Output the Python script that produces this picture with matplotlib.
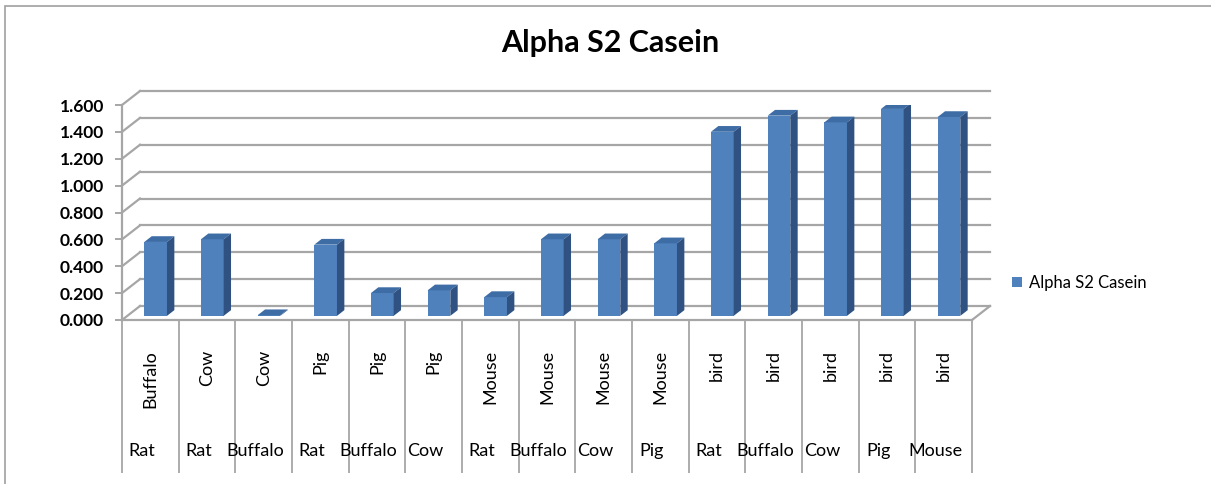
import numpy as np
import matplotlib.pyplot as plt
from matplotlib.patches import Polygon, Rectangle
from matplotlib.ticker import FormatStrFormatter

plt.rcParams['font.family'] = ['Lato', 'DejaVu Sans']

# data
inner_labels = ['Buffalo', 'Cow', 'Cow', 'Pig', 'Pig', 'Pig', 'Mouse', 'Mouse',
                'Mouse', 'Mouse', 'bird', 'bird', 'bird', 'bird', 'bird']
outer_labels = ['Rat', 'Rat', 'Buffalo', 'Rat', 'Buffalo', 'Cow', 'Rat', 'Buffalo',
                'Cow', 'Pig', 'Rat', 'Buffalo', 'Cow', 'Pig', 'Mouse']
values = [0.55, 0.57, 0.005, 0.53, 0.17, 0.19, 0.14, 0.57,
          0.57, 0.54, 1.37, 1.49, 1.44, 1.54, 1.48]
series_name = 'Alpha S2 Casein'
yticks = [0.0, 0.2, 0.4, 0.6, 0.8, 1.0, 1.2, 1.4, 1.6]

W, H = 1211, 484
fig = plt.figure(figsize=(W / 100, H / 100), dpi=100)
ax = fig.add_axes([122 / W, 1 - 320 / H, 850 / W, 215 / H])
n = len(values)
ax.set_xlim(0, n)
ax.set_ylim(0, 1.6)

grid_c = '#A6A6A6'
front_c = '#4F81BD'
top_c = '#3E6DA6'
side_c = '#2F5282'

# depth of the 3d box in data units
DX = 18 / (850 / n)
DY = 14 / (215 / 1.6)

# back wall gridlines + side wall diagonals
for v in yticks:
    ax.plot([0, DX], [v, v + DY], color=grid_c, lw=1.6, clip_on=False, zorder=1)
    ax.plot([DX, n + DX], [v + DY, v + DY], color=grid_c, lw=1.6, clip_on=False, zorder=1)
ax.plot([n, n + DX], [0, DY], color=grid_c, lw=1.6, clip_on=False, zorder=1)

# bars: front face with ax.bar, top and side faces as polygons
f0, f1 = 0.295, 0.705
bw = 0.4
x = np.arange(n)
xl = x + 0.5 + f0 * DX - bw / 2
bottom = f0 * DY
ddx = (f1 - f0) * DX
ddy = (f1 - f0) * DY
ax.bar(xl, values, width=bw, bottom=bottom, align='edge', color=front_c,
       edgecolor='none', zorder=3, label=series_name)
for left, v in zip(xl, values):
    top = bottom + v
    ax.add_patch(Polygon([(left, top), (left + bw, top), (left + bw + ddx, top + ddy),
                          (left + ddx, top + ddy)], closed=True, facecolor=top_c,
                         edgecolor='none', zorder=3))
    ax.add_patch(Polygon([(left + bw, bottom), (left + bw, top), (left + bw + ddx, top + ddy),
                          (left + bw + ddx, bottom + ddy)], closed=True, facecolor=side_c,
                         edgecolor='none', zorder=3))

# axes look
for s in ['top', 'right']:
    ax.spines[s].set_visible(False)
for s in ['left', 'bottom']:
    ax.spines[s].set_color(grid_c)
    ax.spines[s].set_linewidth(1.6)
ax.patch.set_visible(False)
ax.set_yticks(yticks)
ax.yaxis.set_major_formatter(FormatStrFormatter('%.3f'))
ax.tick_params(axis='y', length=5, width=1.4, color=grid_c, pad=8, labelsize=12.5)
for t in ax.get_yticklabels():
    t.set_fontweight('bold')
ax.set_xticks([])

# two level category labels
tr = ax.get_xaxis_transform()
ax.vlines(np.arange(n + 1), -0.71, 0, transform=tr, color=grid_c, lw=1.3, clip_on=False)
for i in range(n):
    ax.text(i + 0.5, -0.14, inner_labels[i], transform=tr, rotation=90,
            ha='center', va='top', fontsize=13)
    ax.text(i + 0.5 - 0.15, -0.61, outer_labels[i], transform=tr,
            ha='center', va='center', fontsize=13)

fig.text(610 / W, 1 - 43 / H, 'Alpha S2 Casein', ha='center', va='center',
         fontsize=22, fontweight='bold')

ax.legend(loc='center left', bbox_to_anchor=(1004 / W, 1 - 283 / H),
          bbox_transform=fig.transFigure, frameon=False, fontsize=12,
          handlelength=0.6, handleheight=0.6, handletextpad=0.4, borderpad=0)

# outer chart border (left and top only visible)
fig.add_artist(Rectangle((5 / W, -0.1), 1.2, 1.1 - 6 / H, transform=fig.transFigure,
                         fill=False, edgecolor='#A0A0A0', lw=1.2))

fig.savefig('out.png', dpi=100)
